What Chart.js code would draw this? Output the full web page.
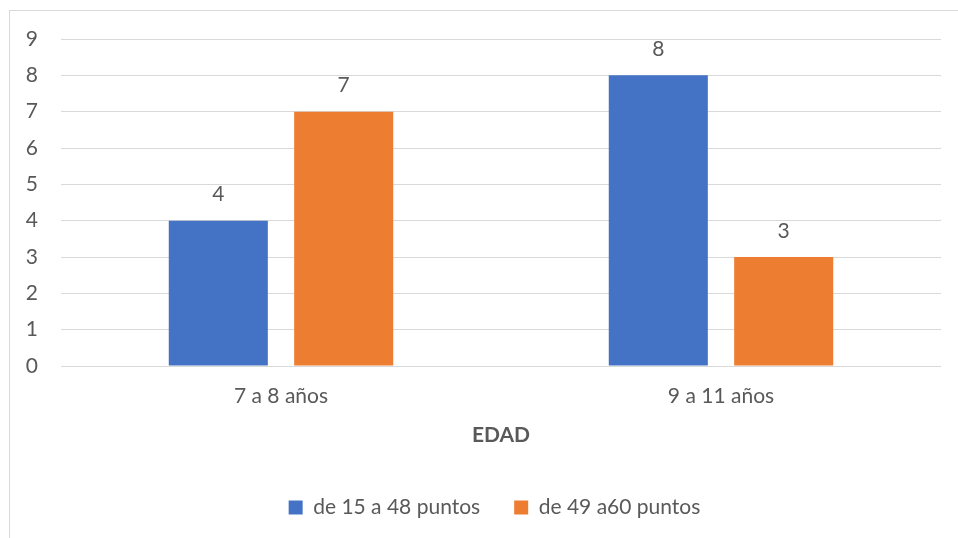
<!DOCTYPE html>
<html>
<head>
<meta charset="utf-8">
<script src="https://cdn.jsdelivr.net/npm/chart.js@4/dist/chart.umd.min.js"></script>
<style>
    body { margin: 0; background: #fff; overflow: hidden; }
    #wrap { position: relative; width: 958px; height: 538px; }
    #frame {
        position: absolute; left: 9px; top: 10px; width: 1000px; height: 600px;
        border-left: 1px solid #d9d9d9; border-top: 1px solid #d9d9d9;
    }
    canvas { position: absolute; left: 0; top: 0; }
</style>
</head>
<body>
<div id="wrap">
    <div id="frame"></div>
    <canvas id="chart" width="958" height="538"></canvas>
</div>
<script>
var categories = ["7 a 8 años", "9 a 11 años"];
var seriesNames = ["de 15 a 48 puntos", "de 49 a60 puntos"];
var lowScores = [4, 8];
var highScores = [7, 3];
var axisTitle = "EDAD";

var textGrey = "#595959";
var fontFamily = "Lato, 'Open Sans', sans-serif";

// small replacement for the datalabels plugin (only Chart.js is available)
var valueLabels = {
    id: "valueLabels",
    afterDatasetsDraw: function (chart) {
        var ctx = chart.ctx;
        ctx.save();
        ctx.fillStyle = textGrey;
        ctx.font = "21px " + fontFamily;
        ctx.textAlign = "center";
        ctx.textBaseline = "middle";
        chart.data.datasets.forEach(function (ds, i) {
            chart.getDatasetMeta(i).data.forEach(function (bar, j) {
                ctx.fillText(ds.data[j], bar.x, bar.y - 26);
            });
        });
        ctx.restore();
    },
};

// Excel centres the legend a bit right of the canvas middle
var legendShift = {
    id: "legendShift",
    afterLayout: function (chart) {
        if (chart.legend) {
            chart.legend.left += 24;
            chart.legend.right += 24;
        }
    },
};

new Chart(document.getElementById("chart"), {
    type: "bar",
    data: {
        labels: categories,
        datasets: [
            {
                label: seriesNames[0],
                data: lowScores,
                backgroundColor: "#4472C4",
                categoryPercentage: 0.57,
                barPercentage: 0.79,
            },
            {
                label: seriesNames[1],
                data: highScores,
                backgroundColor: "#ED7D31",
                categoryPercentage: 0.57,
                barPercentage: 0.79,
            },
        ],
    },
    plugins: [valueLabels, legendShift],
    options: {
        responsive: false,
        animation: false,
        devicePixelRatio: 1,
        layout: { padding: { top: 39, right: 17, bottom: 10, left: 0 } },
        plugins: {
            tooltip: { enabled: false },
            legend: {
                position: "bottom",
                labels: {
                    color: textGrey,
                    font: { size: 21, family: fontFamily },
                    boxWidth: 14,
                    boxHeight: 14,
                    padding: 34,
                },
            },
        },
        scales: {
            x: {
                grid: { display: false, drawTicks: false },
                border: { display: false },
                ticks: {
                    color: textGrey,
                    font: { size: 21, family: fontFamily },
                    padding: 18,
                },
                title: {
                    display: true,
                    text: axisTitle,
                    color: textGrey,
                    font: { size: 21, weight: "bold", family: fontFamily },
                    padding: { top: 0, bottom: 15 },
                },
                afterFit: function (scale) { scale.height = 97; },
            },
            y: {
                min: 0,
                max: 9,
                grid: { color: "#d9d9d9", lineWidth: 1, drawTicks: false },
                border: { display: false },
                ticks: {
                    stepSize: 1,
                    color: textGrey,
                    font: { size: 21, family: fontFamily },
                    padding: 23,
                },
                afterFit: function (scale) { scale.width = 61; },
            },
        },
    },
});
</script>
</body>
</html>
